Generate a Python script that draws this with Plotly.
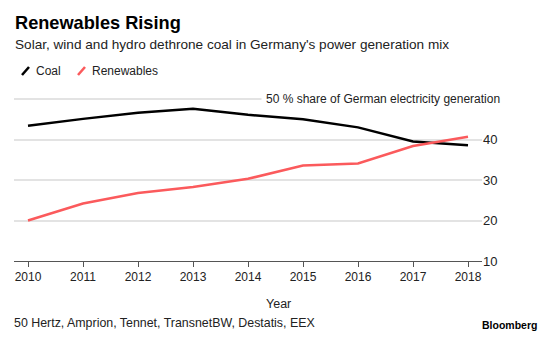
import plotly.graph_objects as go

years = [2010, 2011, 2012, 2013, 2014, 2015, 2016, 2017, 2018]
coal = [43.4, 45.1, 46.6, 47.6, 46.1, 45.0, 43.0, 39.5, 38.6]
renewables = [20.0, 24.2, 26.8, 28.3, 30.3, 33.6, 34.1, 38.4, 40.7]
ytickvals = [10, 20, 30, 40, 50]
yticktext = ["10", "20", "30", "40", ""]

COAL_C = "#000000"
REN_C = "#fb5a5c"
FONT = "Liberation Sans"

W, H = 550, 338
L, R, T, B = 14, 68, 97, 77

fig = go.Figure()
fig.add_trace(go.Scatter(x=years, y=coal, mode="lines", name="Coal",
                         line=dict(color=COAL_C, width=2.5)))
fig.add_trace(go.Scatter(x=years, y=renewables, mode="lines", name="Renewables",
                         line=dict(color=REN_C, width=2.5)))

def px_x(p):
    return (p - L) / (W - L - R)

def px_y(p):
    return 1 - (p - T) / (H - T - B)

annotations = [
    dict(text="<b>Renewables Rising</b>", x=px_x(13), y=px_y(23), xref="paper", yref="paper",
         xanchor="left", yanchor="middle", showarrow=False, font=dict(size=18.2, color="#000", family=FONT)),
    dict(text="Solar, wind and hydro dethrone coal in Germany's power generation mix",
         x=px_x(13), y=px_y(45), xref="paper", yref="paper", xanchor="left", yanchor="middle",
         showarrow=False, font=dict(size=13.6, color="#222", family=FONT)),
    dict(text="Coal", x=px_x(34), y=px_y(71), xref="paper", yref="paper", xanchor="left",
         yanchor="middle", showarrow=False, font=dict(size=12, color="#222", family=FONT)),
    dict(text="Renewables", x=px_x(90), y=px_y(71), xref="paper", yref="paper", xanchor="left",
         yanchor="middle", showarrow=False, font=dict(size=12, color="#222", family=FONT)),
    dict(text="50 % share of German electricity generation", x=px_x(505), y=50,
         xref="paper", yref="y", xanchor="right", yanchor="middle", showarrow=False,
         bgcolor="white", borderpad=4, font=dict(size=12, color="#222", family=FONT)),
    dict(text="Year", x=px_x(278), y=px_y(304), xref="paper", yref="paper",
         xanchor="center", yanchor="middle", showarrow=False,
         font=dict(size=12.5, color="#222", family=FONT)),
    dict(text="50 Hertz, Amprion, Tennet, TransnetBW, Destatis, EEX", x=px_x(12), y=px_y(323),
         xref="paper", yref="paper", xanchor="left", yanchor="middle", showarrow=False,
         font=dict(size=12.4, color="#222", family=FONT)),
    dict(text="<b>Bloomberg</b>", x=px_x(539), y=px_y(325), xref="paper", yref="paper",
         xanchor="right", yanchor="middle", showarrow=False,
         font=dict(size=10.5, color="#000", family=FONT)),
]

shapes = [
    dict(type="line", xref="paper", yref="paper", x0=px_x(22), y0=px_y(75), x1=px_x(29), y1=px_y(67),
         line=dict(color=COAL_C, width=2.5)),
    dict(type="line", xref="paper", yref="paper", x0=px_x(78), y0=px_y(75), x1=px_x(85), y1=px_y(67),
         line=dict(color=REN_C, width=2.5)),
]

fig.update_layout(
    width=W, height=H,
    margin=dict(l=L, r=R, t=T, b=B),
    paper_bgcolor="white", plot_bgcolor="white",
    showlegend=False,
    font=dict(family=FONT, size=13, color="#222"),
    annotations=annotations,
    shapes=shapes,
    xaxis=dict(range=[2010 - 14 / 55, 2018 + 14 / 55], tickvals=years, ticktext=[str(y) for y in years],
               showgrid=False, showline=True, linecolor="#555", linewidth=1,
               ticks="outside", ticklen=5, tickcolor="#555", tickfont=dict(size=12, color="#222"),
               zeroline=False, fixedrange=True),
    yaxis=dict(range=[10, 50.5], side="right", tickvals=ytickvals, ticktext=yticktext,
               showgrid=True, gridcolor="#e3e3e3", gridwidth=1.5, zeroline=False,
               showline=False, ticks="", tickfont=dict(size=13, color="#222"), fixedrange=True),
)

fig.write_html("out.html")
